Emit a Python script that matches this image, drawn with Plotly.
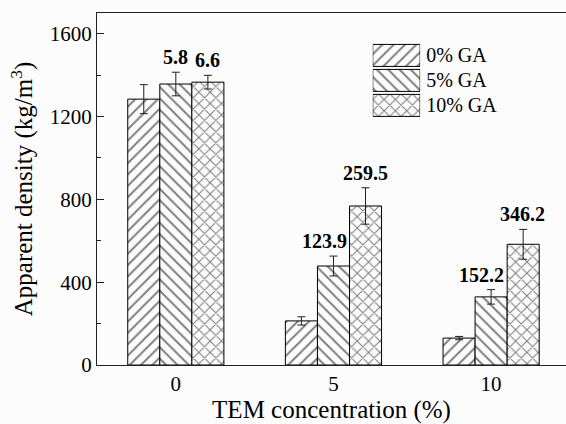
import plotly.graph_objects as go

categories = ["0", "5", "10"]
series_names = ["0% GA", "5% GA", "10% GA"]
density_0ga = [1284, 213, 130]
error_0ga = [70, 20, 8]
density_5ga = [1357, 478, 329]
error_5ga = [57, 48, 35]
density_10ga = [1366, 768, 583]
error_10ga = [33, 88, 72]
labels_5ga = ["5.8", "123.9", "152.2"]
labels_10ga = ["6.6", "259.5", "346.2"]
y_ticks = [0, 400, 800, 1200, 1600]

FONT = "Liberation Serif, Times New Roman, serif"
BG = "#fcfcfc"
patterns = ["/", "\\", "x"]
values = [density_0ga, density_5ga, density_10ga]
errors = [error_0ga, error_5ga, error_10ga]

fig = go.Figure()
for name, v, e, p in zip(series_names, values, errors, patterns):
    fig.add_trace(go.Bar(
        x=categories, y=v, name=name,
        marker=dict(color=BG, line=dict(color="black", width=1),
                    pattern=dict(shape=p, fgcolor="black", bgcolor=BG,
                                 size=8, solidity=0.24)),
        error_y=dict(type="data", array=e, color="#222", thickness=1, width=4),
        showlegend=False,
    ))

# legend boxes drawn as bars on a small auxiliary axis
fig.add_trace(go.Bar(
    x=[1, 1, 1], y=series_names, orientation="h", width=0.88,
    xaxis="x2", yaxis="y2", showlegend=False, hoverinfo="skip",
    marker=dict(color=BG, line=dict(color="black", width=1),
                pattern=dict(shape=patterns, fgcolor="black", bgcolor=BG,
                             size=8, solidity=0.24)),
))

# value labels above bars
offset = 0.2
for i, c in enumerate(categories):
    fig.add_annotation(x=i - (0.06 if i > 0 else 0), y=density_5ga[i] + error_5ga[i],
                       text=f"<b>{labels_5ga[i]}</b>", showarrow=False,
                       yanchor="bottom", yshift=2, xref="x", yref="y",
                       font=dict(family=FONT, size=20, color="black"))
    fig.add_annotation(x=i + offset, y=density_10ga[i] + error_10ga[i],
                       text=f"<b>{labels_10ga[i]}</b>", showarrow=False,
                       yanchor="bottom", yshift=2, xref="x", yref="y",
                       font=dict(family=FONT, size=20, color="black"))

fig.update_layout(
    width=566, height=424,
    margin=dict(l=97, r=0, t=13, b=59),
    paper_bgcolor=BG, plot_bgcolor=BG,
    font=dict(family=FONT, size=21, color="black"),
    barmode="group", bargap=0.39, bargroupgap=0,
    xaxis=dict(type="category", range=[-0.5, 2.475],
               showline=True, linecolor="#222", linewidth=1.3, mirror=True,
               ticks="", showgrid=False, zeroline=False,
               title=dict(text="TEM concentration (%)", standoff=9)),
    yaxis=dict(range=[0, 1700], tickvals=y_ticks, mirror=False,
               showline=True, linecolor="#222", linewidth=1.3,
               ticks="inside", ticklen=7, tickcolor="#222",
               minor=dict(dtick=200, ticks="inside", ticklen=4, tickcolor="#222"),
               showgrid=False, zeroline=False,
               title=dict(text="Apparent density (kg/m<sup>3</sup>)", standoff=9)),
    xaxis2=dict(domain=[0.588, 0.689], range=[0, 1], anchor="y2",
                visible=False, fixedrange=True),
    yaxis2=dict(domain=[0.702, 0.915], anchor="x2", side="right",
                type="category", categoryorder="array",
                categoryarray=series_names[::-1], ticklabelstandoff=5,
                showline=False, ticks="", showgrid=False, zeroline=False,
                tickfont=dict(family=FONT, size=20)),
)

fig.write_html(
    "out.html",
    config={"displayModeBar": False},
    post_script=(
        "document.documentElement.style.overflow='hidden';"
        "document.body.style.margin='0px';"
        "document.body.style.overflow='hidden';"
    ),
)
